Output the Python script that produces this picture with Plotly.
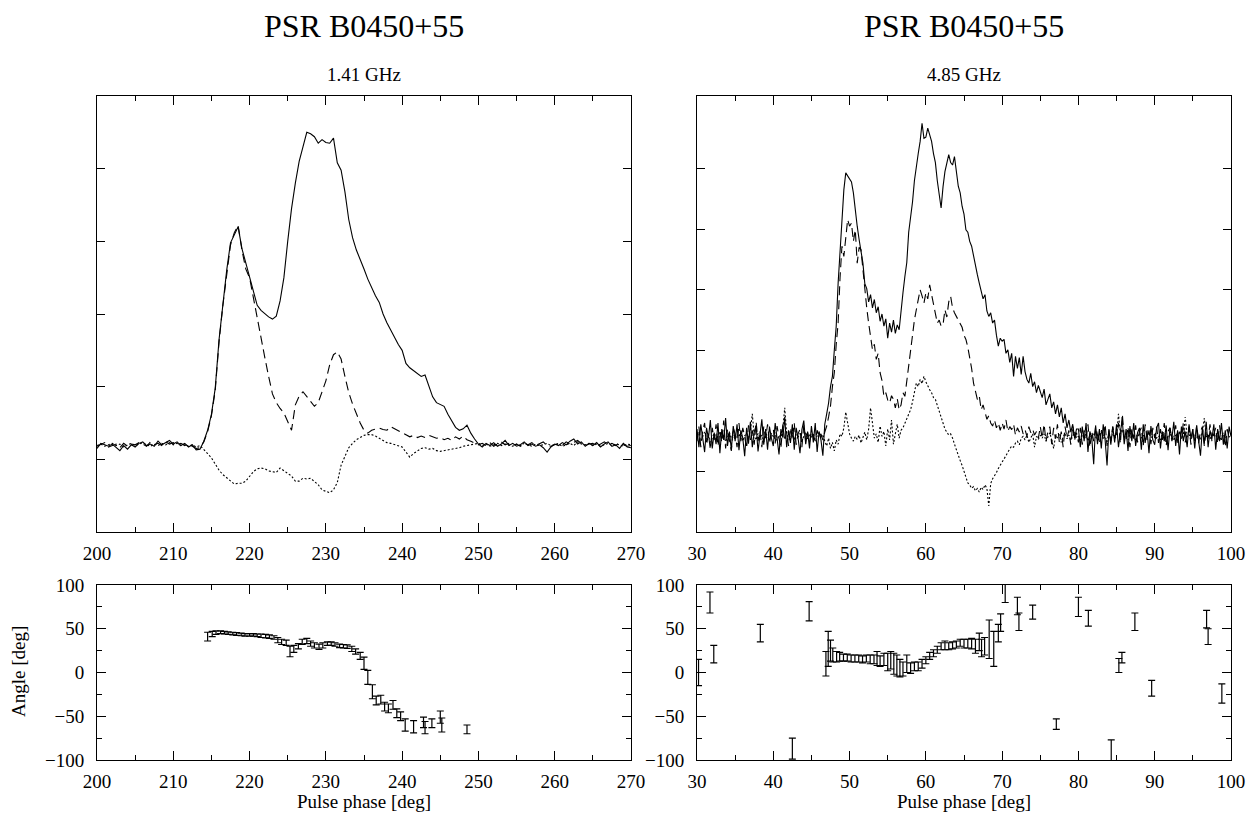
import numpy as np
import plotly.graph_objects as go

# ---------------- data ----------------
# Left profile (1.41 GHz), phase grid 200..270 deg, step 0.5 deg
left_start, left_step = 200.0, 0.5
left_I = [
    1.15, 1.22, 1.20, 1.18, 1.21, 1.17, 1.12, 1.19, 1.14, 1.20,
    1.17, 1.22, 1.24, 1.19, 1.21, 1.18, 1.25, 1.20, 1.23, 1.26,
    1.21, 1.24, 1.19, 1.22, 1.17, 1.20, 1.13, 1.14, 1.25, 1.40,
    1.62, 1.98, 2.65, 3.15, 3.60, 3.98, 4.10, 4.20, 3.90, 3.70,
    3.52, 3.28, 3.12, 3.05, 3.00, 2.96, 2.93, 2.97, 3.18, 3.50,
    4.00, 4.45, 4.80, 5.10, 5.30, 5.50, 5.48, 5.44, 5.35, 5.40,
    5.36, 5.35, 5.42, 5.08, 4.98, 4.68, 4.30, 4.05, 3.88, 3.76,
    3.62, 3.48, 3.36, 3.25, 3.16, 3.00, 2.88, 2.78, 2.66, 2.58,
    2.50, 2.32, 2.26, 2.22, 2.19, 2.14, 2.16, 2.02, 1.86, 1.78,
    1.75, 1.73, 1.62, 1.53, 1.44, 1.40, 1.42, 1.47, 1.36, 1.28,
    1.21, 1.17, 1.22, 1.19, 1.23, 1.18, 1.21, 1.26, 1.19, 1.22,
    1.18, 1.20, 1.24, 1.19, 1.21, 1.18, 1.20, 1.16, 1.10, 1.17,
    1.21, 1.19, 1.23, 1.20, 1.25, 1.28, 1.21, 1.24, 1.18, 1.22,
    1.19, 1.23, 1.17, 1.21, 1.24, 1.18, 1.20, 1.15, 1.22, 1.17,
    1.16]
left_L = [
    1.18, 1.20, 1.23, 1.17, 1.19, 1.21, 1.16, 1.22, 1.18, 1.21,
    1.20, 1.23, 1.21, 1.18, 1.24, 1.20, 1.22, 1.19, 1.24, 1.21,
    1.23, 1.20, 1.22, 1.19, 1.21, 1.18, 1.15, 1.16, 1.24, 1.38,
    1.60, 1.95, 2.62, 3.12, 3.58, 3.95, 4.12, 4.22, 3.88, 3.62,
    3.50, 3.22, 2.92, 2.65, 2.40, 2.14, 1.90, 1.78, 1.70, 1.64,
    1.52, 1.40, 1.75, 1.87, 1.93, 1.86, 1.80, 1.73, 1.78, 1.92,
    2.08, 2.30, 2.44, 2.48, 2.38, 2.14, 1.92, 1.76, 1.62, 1.50,
    1.40, 1.36, 1.40, 1.42, 1.43, 1.41, 1.40, 1.45, 1.42, 1.39,
    1.36, 1.34, 1.31, 1.33, 1.30, 1.32, 1.30, 1.33, 1.31, 1.29,
    1.30, 1.27, 1.29, 1.26, 1.31, 1.28, 1.32, 1.27, 1.25, 1.22,
    1.20, 1.22, 1.19, 1.23, 1.18, 1.21, 1.24, 1.20, 1.22, 1.19,
    1.21, 1.18, 1.22, 1.20, 1.23, 1.19, 1.21, 1.24, 1.19, 1.18,
    1.20, 1.22, 1.19, 1.24, 1.21, 1.23, 1.26, 1.22, 1.19, 1.21,
    1.22, 1.18, 1.21, 1.24, 1.20, 1.22, 1.19, 1.23, 1.20, 1.18,
    1.19]
left_V = [
    1.19, 1.21, 1.18, 1.20, 1.22, 1.19, 1.21, 1.17, 1.20, 1.22,
    1.19, 1.21, 1.23, 1.20, 1.18, 1.21, 1.19, 1.22, 1.20, 1.23,
    1.20, 1.22, 1.19, 1.21, 1.18, 1.20, 1.17, 1.19, 1.14, 1.08,
    1.02, 0.93, 0.85, 0.79, 0.75, 0.71, 0.66, 0.67, 0.67, 0.70,
    0.77, 0.83, 0.87, 0.88, 0.87, 0.84, 0.83, 0.82, 0.88, 0.84,
    0.80, 0.77, 0.70, 0.70, 0.74, 0.73, 0.74, 0.70, 0.65, 0.58,
    0.56, 0.54, 0.58, 0.68, 0.92, 1.04, 1.16, 1.22, 1.27, 1.30,
    1.33, 1.34, 1.34, 1.32, 1.29, 1.26, 1.23, 1.22, 1.20, 1.19,
    1.17, 1.10, 1.03, 1.08, 1.12, 1.15, 1.16, 1.14, 1.15, 1.12,
    1.11, 1.12, 1.13, 1.14, 1.14, 1.16, 1.18, 1.19, 1.20, 1.21,
    1.22, 1.19, 1.21, 1.18, 1.20, 1.22, 1.19, 1.21, 1.20, 1.18,
    1.21, 1.19, 1.22, 1.20, 1.18, 1.21, 1.19, 1.20, 1.22, 1.19,
    1.20, 1.21, 1.18, 1.20, 1.22, 1.19, 1.24, 1.21, 1.20, 1.22,
    1.19, 1.21, 1.18, 1.20, 1.22, 1.19, 1.21, 1.20, 1.18, 1.21,
    1.20]

# Right profile (4.85 GHz), phase grid 30..100 deg, step 0.25 deg
right_start, right_step = 30.0, 0.25
right_I = [
    1.70, 1.40, 1.78, 1.50, 1.32, 1.72, 1.55, 1.85, 1.38, 1.64, 1.45, 1.80, 1.30, 1.70, 1.52, 1.88, 1.42, 1.66, 1.36, 1.75,
    1.50, 1.78, 1.35, 1.68, 1.55, 1.25, 1.72, 1.46, 1.82, 1.40, 1.65, 1.76, 1.33, 1.60, 1.86, 1.44, 1.70, 1.36, 1.74, 1.55,
    1.42, 1.80, 1.50, 1.28, 1.70, 1.56, 1.90, 1.40, 1.68, 1.47, 1.78, 1.36, 1.72, 1.55, 1.30, 1.69, 1.84, 1.45, 1.66, 1.38,
    1.75, 1.48, 1.80, 1.32, 1.66, 1.52, 1.26, 1.78, 1.95, 2.13, 2.40, 2.57, 3.00, 3.40, 4.11, 4.60, 5.20, 5.65, 5.93, 5.88,
    5.84, 5.78, 5.60, 5.27, 5.05, 4.83, 4.60, 4.44, 4.10, 4.02, 3.80, 3.92, 3.70, 3.84, 3.62, 3.72, 3.48, 3.60, 3.40, 3.52,
    3.20, 3.45, 3.30, 3.50, 3.28, 3.42, 3.34, 3.70, 3.95, 4.22, 4.45, 4.95, 5.20, 5.45, 5.80, 6.05, 6.25, 6.45, 6.75, 6.50,
    6.52, 6.67, 6.55, 6.45, 6.25, 6.10, 5.80, 5.55, 5.35, 5.70, 5.95, 6.09, 6.23, 6.10, 6.06, 6.20, 5.95, 5.71, 5.60, 5.38,
    5.25, 4.99, 4.95, 4.80, 4.72, 4.55, 4.44, 4.25, 4.11, 4.00, 3.85, 3.92, 3.65, 3.56, 3.62, 3.45, 3.50, 3.25, 3.07, 3.20,
    3.15, 3.18, 2.95, 3.01, 2.80, 2.95, 2.57, 2.90, 2.70, 2.88, 2.60, 2.90, 2.65, 2.52, 2.46, 2.62, 2.40, 2.48, 2.30, 2.42,
    2.30, 2.22, 2.36, 2.10, 2.19, 2.28, 2.05, 2.15, 1.95, 2.10, 1.90, 2.05, 1.80, 1.95, 1.72, 1.85, 1.65, 1.78, 1.55, 1.70,
    1.70, 1.40, 1.74, 1.50, 1.80, 1.32, 1.66, 1.55, 1.12, 1.76, 1.45, 1.70, 1.38, 1.78, 1.52, 1.10, 1.70, 1.44, 1.74, 1.48,
    1.78, 1.40, 1.66, 1.84, 1.45, 1.70, 1.34, 1.75, 1.50, 1.80, 1.42, 1.64, 1.72, 1.36, 1.78, 1.47, 1.68, 1.30, 1.75, 1.52,
    1.44, 1.72, 1.80, 1.38, 1.66, 1.50, 1.76, 1.35, 1.72, 1.54, 1.82, 1.42, 1.68, 1.28, 1.74, 1.50, 1.66, 1.40, 1.78, 1.55,
    1.70, 1.38, 1.76, 1.50, 1.26, 1.72, 1.46, 1.82, 1.40, 1.68, 1.54, 1.78, 1.36, 1.70, 1.50, 1.80, 1.44, 1.68, 1.38, 1.74,
    1.58]
right_L = [
    1.50, 1.74, 1.40, 1.68, 1.80, 1.44, 1.62, 1.36, 1.72, 1.52, 1.78, 1.42, 1.66, 1.48, 1.84, 1.38, 1.70, 1.54, 1.34, 1.72,
    1.62, 1.40, 1.80, 1.50, 1.72, 1.58, 1.38, 1.76, 1.52, 1.68, 1.44, 1.82, 1.50, 1.66, 1.40, 1.74, 1.55, 1.78, 1.46, 1.64,
    1.70, 1.46, 1.75, 1.55, 1.38, 1.78, 1.50, 1.66, 1.42, 1.72, 1.52, 1.80, 1.44, 1.62, 1.70, 1.40, 1.76, 1.50, 1.64, 1.48,
    1.66, 1.59, 1.50, 1.68, 1.57, 1.62, 1.52, 1.65, 1.75, 1.90, 2.08, 2.40, 2.63, 3.10, 3.45, 4.20, 4.72, 4.55, 4.88, 5.16,
    5.05, 5.10, 4.80, 4.99, 4.44, 4.70, 4.66, 4.30, 4.00, 3.70, 3.45, 3.20, 3.01, 3.10, 2.85, 2.95, 2.63, 2.50, 2.24, 2.30,
    2.18, 2.13, 2.25, 2.19, 2.05, 2.20, 2.02, 2.10, 2.30, 2.24, 2.50, 2.79, 3.00, 3.34, 3.50, 3.67, 3.85, 4.00, 3.90, 3.78,
    3.95, 3.85, 4.08, 3.92, 3.78, 3.60, 3.45, 3.50, 3.40, 3.42, 3.67, 3.55, 3.80, 3.89, 3.70, 3.62, 3.56, 3.50, 3.45, 3.38,
    3.25, 3.18, 3.05, 2.90, 2.70, 2.46, 2.30, 2.19, 2.25, 2.02, 2.10, 1.95, 1.86, 1.92, 1.80, 1.75, 1.85, 1.72, 1.80, 1.68,
    1.80, 1.70, 1.85, 1.66, 1.74, 1.69, 1.78, 1.60, 1.72, 1.65, 1.75, 1.62, 1.69, 1.58, 1.74, 1.64, 1.70, 1.60, 1.66, 1.55,
    1.74, 1.55, 1.78, 1.50, 1.66, 1.74, 1.45, 1.72, 1.54, 1.78, 1.48, 1.66, 1.40, 1.74, 1.55, 1.68, 1.44, 1.76, 1.52, 1.64,
    1.48, 1.72, 1.44, 1.68, 1.55, 1.78, 1.40, 1.66, 1.50, 1.74, 1.58, 1.46, 1.70, 1.52, 1.78, 1.42, 1.68, 1.50, 1.74, 1.56,
    1.64, 1.80, 1.46, 1.95, 1.58, 1.50, 1.74, 1.40, 1.70, 1.54, 1.76, 1.48, 1.66, 1.72, 1.42, 1.78, 1.52, 1.68, 1.45, 1.72,
    1.55, 1.74, 1.47, 1.70, 1.52, 1.80, 1.42, 1.66, 1.72, 1.50, 1.62, 1.76, 1.45, 1.70, 1.54, 1.80, 1.48, 1.64, 1.74, 1.44,
    1.70, 1.50, 1.76, 1.46, 1.66, 1.74, 1.42, 1.68, 1.54, 1.78, 1.50, 1.62, 1.72, 1.46, 1.76, 1.52, 1.66, 1.40, 1.70, 1.56,
    1.60]
right_V = [
    1.56, 1.62, 1.50, 1.58, 1.65, 1.53, 1.60, 1.48, 1.57, 1.63, 1.52, 1.59, 1.66, 1.54, 1.61, 1.49, 1.58, 1.64, 1.55, 1.60,
    1.53, 1.61, 1.57, 1.66, 1.50, 1.59, 1.62, 1.55, 1.68, 1.95, 1.58, 1.52, 1.63, 1.56, 1.60, 1.49, 1.65, 1.57, 1.54, 1.61,
    1.58, 1.64, 1.51, 1.60, 1.56, 1.70, 2.05, 1.62, 1.55, 1.59, 1.66, 1.52, 1.61, 1.57, 1.63, 1.50, 1.58, 1.65, 1.54, 1.60,
    1.57, 1.62, 1.53, 1.59, 1.64, 1.55, 1.61, 1.50, 1.42, 1.55, 1.38, 1.48, 1.34, 1.52, 1.45, 1.62, 1.58, 1.72, 1.98, 1.80,
    1.62, 1.55, 1.50, 1.58, 1.53, 1.60, 1.47, 1.56, 1.65, 1.52, 1.70, 2.05, 1.78, 1.55, 1.62, 1.48, 1.75, 1.58, 1.66, 1.42,
    1.70, 1.52, 1.85, 1.45, 1.62, 1.78, 1.55, 1.68, 1.72, 1.80, 1.88, 1.95, 2.02, 2.15, 2.30, 2.46, 2.40, 2.52, 2.45, 2.57,
    2.48, 2.40, 2.35, 2.30, 2.22, 2.19, 2.10, 2.00, 1.91, 1.80, 1.70, 1.64, 1.60, 1.62, 1.55, 1.45, 1.35, 1.28, 1.18, 1.10,
    1.00, 0.90, 0.81, 0.78, 0.72, 0.75, 0.68, 0.72, 0.66, 0.74, 0.70, 0.78, 0.72, 0.43, 0.80, 0.88, 0.92, 0.98, 1.05, 1.10,
    1.14, 1.20, 1.26, 1.32, 1.38, 1.42, 1.40, 1.47, 1.50, 1.44, 1.55, 1.58, 1.52, 1.60, 1.48, 1.56, 1.62, 1.40, 1.58, 1.53,
    1.60, 1.55, 1.62, 1.50, 1.58, 1.64, 1.52, 1.38, 1.59, 1.56, 1.61, 1.48, 1.57, 1.63, 1.54, 1.60, 1.51, 1.58, 1.65, 1.55,
    1.58, 1.52, 1.61, 1.56, 1.63, 1.50, 1.59, 1.55, 1.62, 1.57, 1.53, 1.60, 1.66, 1.54, 1.58, 1.49, 1.62, 1.56, 1.61, 1.55,
    1.59, 1.95, 1.62, 1.70, 1.55, 1.60, 1.52, 1.64, 1.57, 1.61, 1.50, 1.58, 1.63, 1.55, 1.60, 1.53, 1.59, 1.62, 1.56, 1.58,
    1.61, 1.55, 1.59, 1.52, 1.63, 1.57, 1.60, 1.54, 1.62, 1.58, 1.51, 1.60, 1.56, 1.64, 1.55, 1.59, 1.90, 1.57, 1.61, 1.54,
    1.58, 1.62, 1.55, 1.60, 1.53, 1.65, 1.88, 1.57, 1.61, 1.54, 1.59, 1.63, 1.56, 1.60, 1.52, 1.58, 1.62, 1.55, 1.59, 1.57,
    1.58]

# Position angle, 1.41 GHz
pa1_x = [214.5, 215.1, 215.6, 216.2, 216.7, 217.2, 217.8, 218.3, 218.9, 219.4,
         220.0, 220.5, 221.0, 221.5, 222.1, 222.6, 223.2, 223.7, 224.2, 224.8,
         225.3, 225.8, 226.4, 226.9, 227.5, 228.0, 228.5, 229.1, 229.6, 230.2,
         230.7, 231.2, 231.8, 232.3, 232.8, 233.4, 233.9, 234.5, 235.0, 235.5,
         236.1, 236.6, 237.2, 237.7, 238.2, 238.8, 239.3, 239.8, 240.4, 241.5,
         242.8, 243.0, 243.9, 245.0, 245.2, 248.5]
pa1_y = [41, 44, 45.5, 46, 45.5, 45, 44.5, 44, 43.5, 43,
         43, 43, 42.5, 42, 41.5, 41, 40, 37, 35, 34,
         24, 27, 30, 35, 36, 33, 31, 29.5, 31, 33,
         33, 32, 30.5, 30, 29.5, 27, 24, 19, 10.5, -5.5,
         -22, -32, -31, -39, -41, -37, -46.5, -50, -60, -62,
         -57, -63, -58, -51, -60, -65]
pa1_err = [5, 3, 2, 1.5, 1.5, 1.5, 1.5, 1.5, 1.5, 1.5,
           1.5, 1.5, 1.5, 2, 2, 2, 2, 3, 3, 3,
           6, 4, 3, 3, 3, 3, 3, 3, 3, 2,
           2, 2, 2, 2, 2, 3, 3, 4, 7, 8,
           8, 5, 5, 5, 5, 5, 5, 5, 7, 7,
           6, 7, 5, 7, 8, 5]

# Position angle, 4.85 GHz
pa2_x = [30.2, 31.7, 32.2, 38.3, 42.5, 44.7,
         46.9, 47.2, 47.5, 47.8, 48.3, 48.7, 49.2, 49.7, 50.2, 50.7,
         51.2, 51.7, 52.2, 52.7, 53.2, 53.6, 54.0, 54.5, 55.0, 55.4,
         55.8, 56.2, 56.6, 57.0, 57.5, 58.0, 58.5, 59.0, 59.5, 60.0,
         60.5, 61.0, 61.5, 62.0, 62.5, 63.0, 63.5, 64.0, 64.5, 65.0,
         65.5, 66.0, 66.5, 67.0, 67.3, 67.7, 68.3, 68.9, 69.5, 69.8,
         70.4, 72.0, 72.2, 74.0, 77.1, 80.0, 81.3, 84.3, 85.3, 85.7,
         87.4, 89.6, 96.8, 97.0, 98.8]
pa2_y = [0, 80, 21, 45, -87, 70,
         10, 27, 25, 20, 18, 18, 17, 17, 16, 16,
         16, 15, 16, 15, 15, 16, 13, 15, 12, 14,
         10, 8, 5, 4, 10, 5, 7, 7, 10, 14,
         19, 22, 26, 30, 31, 30, 31, 32, 34, 33,
         33, 33, 30, 35, 28, 30, 38, 27, 45, 57,
         94, 76, 58, 69, -59, 75, 62, -89, 8, 17,
         58, -18, 61, 41, -24]
pa2_err = [15, 12, 10, 10, 12, 11,
           14, 20, 12, 8, 6, 5, 4, 4, 4, 4,
           4, 4, 4, 5, 5, 8, 6, 7, 10, 10,
           12, 12, 10, 8, 10, 6, 5, 5, 5, 4,
           4, 4, 4, 4, 5, 4, 4, 4, 4, 5,
           5, 6, 8, 10, 10, 10, 22, 20, 10, 10,
           14, 10, 10, 8, 6, 11, 9, 12, 8, 6,
           10, 9, 10, 9, 11]

# ---------------- figure ----------------
W, H = 1260, 822
def px_x(p): return p / W
def px_y(p): return 1 - p / H

FONT = "Liberation Serif, Times New Roman, serif"

xl = [px_x(97), px_x(631)]
xr = [px_x(697), px_x(1231)]
ytop = [px_y(532), px_y(96)]
ybot = [px_y(760), px_y(585)]

def grid(start, step, n):
    return [round(start + i * step, 3) for i in range(n)]

fig = go.Figure()
xL = grid(left_start, left_step, len(left_I))
xR = grid(right_start, right_step, len(right_I))

lw = 1.1
fig.add_trace(go.Scatter(x=xL, y=left_V, mode="lines", line=dict(color="black", width=lw, dash="2px,2px"), xaxis="x", yaxis="y"))
fig.add_trace(go.Scatter(x=xL, y=left_L, mode="lines", line=dict(color="black", width=lw, dash="9px,5px"), xaxis="x", yaxis="y"))
fig.add_trace(go.Scatter(x=xL, y=left_I, mode="lines", line=dict(color="black", width=lw), xaxis="x", yaxis="y"))

fig.add_trace(go.Scatter(x=xR, y=right_V, mode="lines", line=dict(color="black", width=lw, dash="2px,2px"), xaxis="x2", yaxis="y2"))
fig.add_trace(go.Scatter(x=xR, y=right_L, mode="lines", line=dict(color="black", width=lw, dash="9px,5px"), xaxis="x2", yaxis="y2"))
fig.add_trace(go.Scatter(x=xR, y=right_I, mode="lines", line=dict(color="black", width=lw), xaxis="x2", yaxis="y2"))

eb = dict(type="data", color="black", thickness=1.2, width=3.5)
fig.add_trace(go.Scatter(x=pa1_x, y=pa1_y, mode="markers",
                         marker=dict(size=1, color="rgba(0,0,0,0)"),
                         error_y=dict(array=pa1_err, **eb), xaxis="x3", yaxis="y3"))
fig.add_trace(go.Scatter(x=pa2_x, y=pa2_y, mode="markers",
                         marker=dict(size=1, color="rgba(0,0,0,0)"),
                         error_y=dict(array=pa2_err, **eb), xaxis="x4", yaxis="y4"))

def xaxis(domain, rng, tick0, anchor):
    return dict(domain=domain, range=rng, anchor=anchor, showgrid=False, zeroline=False,
                automargin=False,
                showline=True, linecolor="black", linewidth=1, mirror="allticks",
                ticks="inside", ticklen=9, tickwidth=1, tickcolor="black",
                tick0=tick0, dtick=10, ticklabelstandoff=4,
                tickfont=dict(family=FONT, size=19, color="black"),
                minor=dict(dtick=5, tick0=tick0, ticks="inside", ticklen=5, tickwidth=1, tickcolor="black"))

def yaxis_top(domain, rng, vals, anchor):
    return dict(domain=domain, range=rng, anchor=anchor, showgrid=False, zeroline=False,
                automargin=False,
                showline=True, linecolor="black", linewidth=1, mirror="allticks",
                ticks="inside", ticklen=8, tickwidth=1, tickcolor="black",
                tickvals=vals, showticklabels=False)

def yaxis_bot(domain, anchor):
    return dict(domain=domain, range=[-100, 100], anchor=anchor, showgrid=False, zeroline=False,
                automargin=False,
                showline=True, linecolor="black", linewidth=1, mirror="allticks",
                ticks="inside", ticklen=9, tickwidth=1, tickcolor="black",
                tick0=0, dtick=50, ticklabelstandoff=8,
                tickfont=dict(family=FONT, size=19, color="black"),
                minor=dict(dtick=25, ticks="inside", ticklen=5, tickwidth=1, tickcolor="black"))

fig.update_layout(
    template="none",
    width=W, height=H, margin=dict(l=0, r=0, t=0, b=0, pad=0, autoexpand=False),
    paper_bgcolor="white", plot_bgcolor="white", showlegend=False,
    xaxis=xaxis(xl, [200, 270], 200, "y"),
    yaxis=yaxis_top(ytop, [0, 6], [1, 2, 3, 4, 5], "x"),
    xaxis2=xaxis(xr, [30, 100], 30, "y2"),
    yaxis2=yaxis_top(ytop, [0, 7.2], [1, 2, 3, 4, 5, 6], "x2"),
    xaxis3=xaxis(xl, [200, 270], 200, "y3"),
    yaxis3=yaxis_bot(ybot, "x3"),
    xaxis4=xaxis(xr, [30, 100], 30, "y4"),
    yaxis4=yaxis_bot(ybot, "x4"),
)

ann = []
def add_text(text, x, y, size, angle=0):
    ann.append(dict(text=text, x=px_x(x), y=px_y(y), xref="paper", yref="paper",
                    showarrow=False, xanchor="center", yanchor="middle", textangle=angle,
                    font=dict(family=FONT, size=size, color="black")))

add_text("PSR B0450+55", 364, 26, 32)
add_text("PSR B0450+55", 964, 26, 32)
add_text("1.41 GHz", 364, 74, 19)
add_text("4.85 GHz", 964, 74, 19)
add_text("Angle [deg]", 18, 672, 19, -90)
add_text("Pulse phase [deg]", 364, 801, 19)
add_text("Pulse phase [deg]", 964, 801, 19)
fig.update_layout(annotations=ann)

fig.write_html("out.html")
